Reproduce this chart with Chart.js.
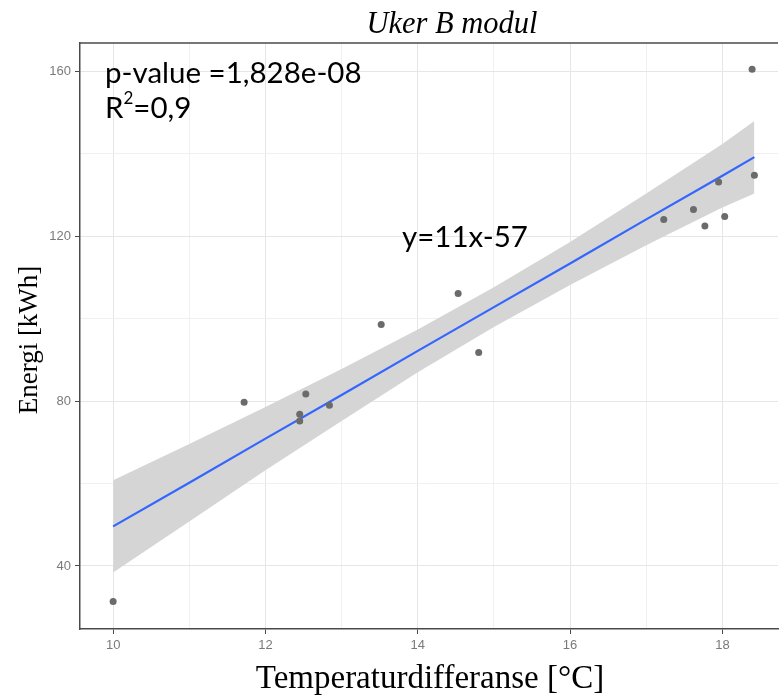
<!DOCTYPE html>
<html>
<head>
<meta charset="utf-8">
<script src="https://cdn.jsdelivr.net/npm/chart.js@4.4.1/dist/chart.umd.min.js"></script>
<style>
  html, body { margin: 0; padding: 0; background: #fff; }
  #wrap { width: 782px; height: 698px; position: relative; }
</style>
</head>
<body>
<div id="wrap"><canvas id="energiChart"></canvas></div>
<script>
// Målinger: temperaturdifferanse og energi
const tempDiff = [10.0, 11.72, 12.45, 12.45, 12.53, 12.84, 13.52, 14.53, 14.80, 17.23, 17.62, 17.77, 17.95, 18.03, 18.39, 18.42];
const energi   = [31.4, 79.7, 76.8, 75.2, 81.7, 79.0, 98.6, 106.1, 91.8, 124.1, 126.5, 122.5, 133.2, 124.8, 160.5, 134.8];

// Regresjonslinje med konfidensbånd
const fitX     = [10, 11, 12, 13, 14, 15, 16, 17, 18, 18.42];
const fitY     = [49.6, 60.2, 70.9, 81.5, 92.2, 102.8, 113.4, 124.1, 134.7, 139.2];
const bandHigh = [60.8, 69.6, 78.6, 87.8, 97.4, 107.6, 118.6, 130.4, 142.4, 148.0];
const bandLow  = [38.4, 50.8, 63.2, 75.2, 87.0, 98.0, 108.2, 117.8, 127.0, 130.4];

// Akser
const xTicks = [10, 11, 12, 13, 14, 15, 16, 17, 18];
const yTicks = [40, 60, 80, 100, 120, 140, 160];
const xLabelled = [10, 12, 14, 16, 18];
const yLabelled = [40, 80, 120, 160];

const chartTitle = 'Uker B modul';
const xTitle = 'Temperaturdifferanse [°C]';
const yTitle = 'Energi [kWh]';
const pText = 'p-value =1,828e-08';
const r2Text = '0,9';
const eqText = 'y=11x-57';

const toPoints = (xs, ys) => xs.map((x, i) => ({ x: x, y: ys[i] }));

// Tekster og toppkant
const decorPlugin = {
    id: 'decor',
    afterDraw(chart) {
        const ctx = chart.ctx;
        const a = chart.chartArea;
        ctx.save();

        // toppkant av panelet
        ctx.strokeStyle = '#4a4a4a';
        ctx.lineWidth = 1.5;
        ctx.beginPath();
        ctx.moveTo(a.left, a.top);
        ctx.lineTo(a.right, a.top);
        ctx.stroke();

        ctx.fillStyle = '#000';
        ctx.textBaseline = 'middle';

        ctx.font = 'italic 30.5px "Liberation Serif"';
        ctx.textAlign = 'center';
        ctx.fillText(chartTitle, 452, 25);

        ctx.font = '33px "Liberation Serif"';
        ctx.fillText(xTitle, 430, 679);

        ctx.save();
        ctx.translate(30, 340);
        ctx.rotate(-Math.PI / 2);
        ctx.font = '27px "Liberation Serif"';
        ctx.fillText(yTitle, 0, 0);
        ctx.restore();

        // annotasjoner
        const fs = 29.5;
        ctx.textAlign = 'left';
        ctx.font = fs + 'px Lato';
        ctx.fillText(pText, a.left + 25, 73);
        ctx.fillText('R', a.left + 25, 108);
        const rw = ctx.measureText('R').width;
        ctx.font = '17px Lato';
        ctx.fillText('2', a.left + 25 + rw, 99);
        const sw = ctx.measureText('2').width;
        ctx.font = fs + 'px Lato';
        ctx.fillText('=' + r2Text, a.left + 25 + rw + sw, 108);
        ctx.fillText(eqText, 402, 237);

        ctx.restore();
    }
};

const ctx = document.getElementById('energiChart').getContext('2d');
new Chart(ctx, {
    type: 'scatter',
    data: {
        datasets: [
            {
                label: 'data',
                data: toPoints(tempDiff, energi),
                backgroundColor: '#6b6b6b',
                borderWidth: 0,
                pointRadius: 3.5,
                order: 0
            },
            {
                label: 'fit',
                data: toPoints(fitX, fitY),
                showLine: true,
                borderColor: '#3366ff',
                borderWidth: 2.2,
                pointRadius: 0,
                fill: false,
                order: 1
            },
            {
                label: 'upper',
                data: toPoints(fitX, bandHigh),
                showLine: true,
                borderWidth: 0,
                borderColor: 'rgba(0,0,0,0)',
                backgroundColor: '#d5d5d5',
                pointRadius: 0,
                fill: '+1',
                order: 2
            },
            {
                label: 'lower',
                data: toPoints(fitX, bandLow),
                showLine: true,
                borderWidth: 0,
                borderColor: 'rgba(0,0,0,0)',
                pointRadius: 0,
                fill: false,
                order: 3
            }
        ]
    },
    options: {
        responsive: true,
        maintainAspectRatio: false,
        animation: false,
        layout: { padding: { left: 0, right: 0, top: 43, bottom: 0 } },
        plugins: {
            legend: { display: false },
            tooltip: { enabled: false },
            title: { display: false }
        },
        scales: {
            x: {
                type: 'linear',
                min: 9.565,
                max: 18.73,
                afterBuildTicks: s => { s.ticks = xTicks.map(v => ({ value: v })); },
                afterFit: s => { s.height = 69; },
                border: { display: true, color: '#4a4a4a', width: 1.5 },
                grid: {
                    color: c => xLabelled.includes(c.tick && c.tick.value) ? '#e6e6e6' : '#f0f0f0',
                    lineWidth: 1,
                    drawTicks: true,
                    tickLength: 5,
                    tickColor: c => xLabelled.includes(c.tick && c.tick.value) ? '#4a4a4a' : 'rgba(0,0,0,0)'
                },
                ticks: {
                    callback: v => xLabelled.includes(v) ? String(v) : '',
                    color: '#7a7a7a',
                    font: { family: '"Liberation Sans"', size: 13 },
                    padding: 4,
                    maxRotation: 0,
                    autoSkip: false
                }
            },
            y: {
                type: 'linear',
                min: 24.7,
                max: 166.9,
                afterBuildTicks: s => { s.ticks = yTicks.map(v => ({ value: v })); },
                afterFit: s => { s.width = 80; },
                border: { display: true, color: '#4a4a4a', width: 1.5 },
                grid: {
                    color: c => yLabelled.includes(c.tick && c.tick.value) ? '#e6e6e6' : '#f0f0f0',
                    lineWidth: 1,
                    drawTicks: true,
                    tickLength: 5,
                    tickColor: c => yLabelled.includes(c.tick && c.tick.value) ? '#4a4a4a' : 'rgba(0,0,0,0)'
                },
                ticks: {
                    callback: v => yLabelled.includes(v) ? String(v) : '',
                    color: '#7a7a7a',
                    font: { family: '"Liberation Sans"', size: 13 },
                    padding: 4,
                    autoSkip: false
                }
            }
        }
    },
    plugins: [decorPlugin]
});
</script>
</body>
</html>
